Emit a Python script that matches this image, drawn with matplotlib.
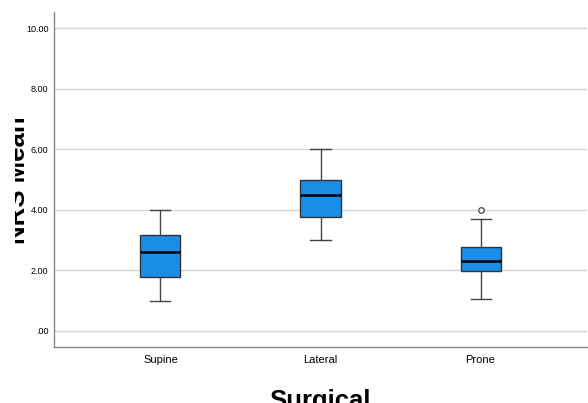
import matplotlib
matplotlib.use('Agg')
from matplotlib import pyplot as plt
from matplotlib.transforms import Bbox, TransformedBbox

plt.rcParams['font.family'] = ['Liberation Sans', 'DejaVu Sans']

# -- values --
groups = ['Supine', 'Lateral', 'Prone']
whis_lo = [1.00, 3.00, 1.07]
q1 = [1.79, 3.77, 1.97]
medians = [2.60, 4.49, 2.31]
q3 = [3.17, 4.97, 2.76]
whis_hi = [4.00, 6.00, 3.70]
outliers = [[], [], [4.00]]
yticks = [0, 2, 4, 6, 8, 10]

stats = []
for i in range(len(groups)):
    stats.append({'label': groups[i], 'whislo': whis_lo[i], 'q1': q1[i], 'med': medians[i],
                  'q3': q3[i], 'whishi': whis_hi[i], 'fliers': outliers[i]})

fig = plt.figure(figsize=(5.88, 4.03), dpi=100)
ax = fig.add_axes([54 / 588, 1 - 347 / 403, 533 / 588, 335 / 403])

ax.bxp(stats, positions=[1, 2, 3], widths=0.25, capwidths=0.125, patch_artist=True,
       boxprops=dict(facecolor='#1a8ee6', edgecolor='#333333', linewidth=1.0),
       medianprops=dict(color='black', linewidth=1.8),
       whiskerprops=dict(color='#444444', linewidth=1.0),
       capprops=dict(color='#444444', linewidth=1.0),
       flierprops=dict(marker='o', markersize=4, markerfacecolor='white',
                       markeredgecolor='#444444', markeredgewidth=0.9),
       zorder=3)

ax.set_xlim(0.335, 3.665)
ax.set_ylim(-0.53, 10.53)
ax.set_yticks(yticks)
ax.set_yticklabels(['.00' if v == 0 else '%.2f' % v for v in yticks], fontsize=6.5)
ax.tick_params(axis='y', length=0, pad=4)
ax.tick_params(axis='x', length=0, pad=6, labelsize=8)
ax.yaxis.grid(True, color='#d4d4d4', linewidth=1.0, zorder=0)
ax.set_axisbelow(True)
for s in ['top', 'right']:
    ax.spines[s].set_visible(False)
for s in ['left', 'bottom']:
    ax.spines[s].set_color('#888888')
    ax.spines[s].set_linewidth(1.0)

# axis titles, partly cut off like the reference
ylab = fig.text(30 / 588, 1 - 180 / 403, 'NRS Mean', rotation=90, fontsize=18.5, fontweight='bold',
                ha='right', va='center')
ylab.set_clip_on(True)
ylab.set_clip_box(TransformedBbox(Bbox([[15 / 588, 0], [1, 1]]), fig.transFigure))
fig.text(320 / 588, 1 - 389 / 403, 'Surgical', fontsize=18.5, fontweight='bold',
         ha='center', va='top')

fig.savefig('out.png', dpi=100)
